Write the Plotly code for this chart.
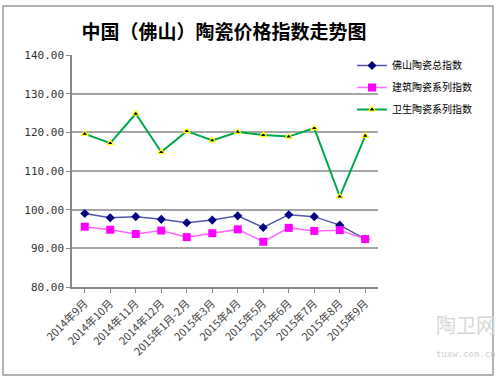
import plotly.graph_objects as go

categories = ["2014年9月", "2014年10月", "2014年11月", "2014年12月", "2015年1月-2月",
              "2015年3月", "2015年4月", "2015年5月", "2015年6月", "2015年7月",
              "2015年8月", "2015年9月"]
total_index = [99.0, 97.9, 98.2, 97.5, 96.6, 97.3, 98.4, 95.4, 98.7, 98.2, 96.0, 92.4]
building_index = [95.6, 94.8, 93.7, 94.6, 92.9, 93.9, 94.9, 91.7, 95.3, 94.5, 94.7, 92.4]
sanitary_index = [119.6, 117.2, 124.8, 114.9, 120.3, 117.9, 120.1, 119.3, 118.9, 121.1, 103.4, 119.1]
y_ticks = [80, 90, 100, 110, 120, 130, 140]

W, H = 500, 380
L, R, T, B = 72, 378, 55, 287
def px(x):
    return (x - L) / (R - L)
def py(y):
    return (B - y) / (B - T)

font = "Noto Sans CJK SC"
fig = go.Figure()
fig.add_trace(go.Scatter(x=categories, y=total_index, name="佛山陶瓷总指数", mode="lines+markers",
                         legendgroup="a",
                         line=dict(color="#5555b0", width=1.5),
                         marker=dict(symbol="diamond", color="#000080", size=7)))
fig.add_trace(go.Scatter(x=categories, y=building_index, name="建筑陶瓷系列指数", mode="lines+markers",
                         legendgroup="b",
                         line=dict(color="#ff66ff", width=1.5),
                         marker=dict(symbol="square", color="#ff00ff", size=8)))
fig.add_trace(go.Scatter(x=categories, y=sanitary_index, name="卫生陶瓷系列指数", mode="lines+markers",
                         legendgroup="c",
                         line=dict(color="#00a84c", width=2),
                         marker=dict(symbol="triangle-up", color="#000040", size=6,
                                     line=dict(color="#ffff00", width=1.2))))

fig.update_layout(
    width=W, height=H,
    margin=dict(l=L, r=W - R, t=T, b=H - B),
    paper_bgcolor="white", plot_bgcolor="white",
    font=dict(family=font, color="#000000"),
    title=dict(text="<b>中国（佛山）陶瓷价格指数走势图</b>", x=224 / W, xanchor="center",
               y=1 - 32 / H, yanchor="middle", font=dict(size=19, family=font, color="#000000")),
    showlegend=True,
    legend=dict(x=px(352), xanchor="left", y=py(51), yanchor="top", bgcolor="rgba(0,0,0,0)",
                font=dict(size=10, family=font), tracegroupgap=3, itemwidth=30),
    xaxis=dict(type="category", showgrid=False, showline=True, linecolor="#888888", linewidth=1.5,
               ticks="outside", ticklen=4, tickcolor="#888888", tickangle=-45,
               tickfont=dict(size=11, family=font, color="#444444"), range=[-0.5, 11.5]),
    yaxis=dict(range=[80, 140], tickvals=y_ticks, tickformat=".2f", showgrid=True,
               gridcolor="#a6a6a6", gridwidth=2, showline=True, linecolor="#888888", linewidth=1.5,
               ticks="outside", ticklen=4, tickcolor="#888888", zeroline=False,
               tickfont=dict(size=11, family="DejaVu Sans Mono", color="#333333")),
)

# outer chart frame
fig.add_shape(type="rect", xref="paper", yref="paper", x0=px(3), x1=px(493), y0=py(375), y1=py(6),
              line=dict(color="#9a9a9a", width=1.5), fillcolor="rgba(0,0,0,0)", layer="below")

# watermark
fig.add_annotation(text="陶卫网", xref="paper", yref="paper", x=px(466), y=py(341), showarrow=False,
                   font=dict(size=20, color="#d8d8d8", family=font), xanchor="center")
fig.add_annotation(text="tuxw.com.cn", xref="paper", yref="paper", x=px(466), y=py(361), showarrow=False,
                   font=dict(size=9, color="#d0d0d0", family="DejaVu Sans Mono"), xanchor="center")

fig.write_html("out.html", config={"displayModeBar": False},
               post_script="document.body.style.margin='0';")
